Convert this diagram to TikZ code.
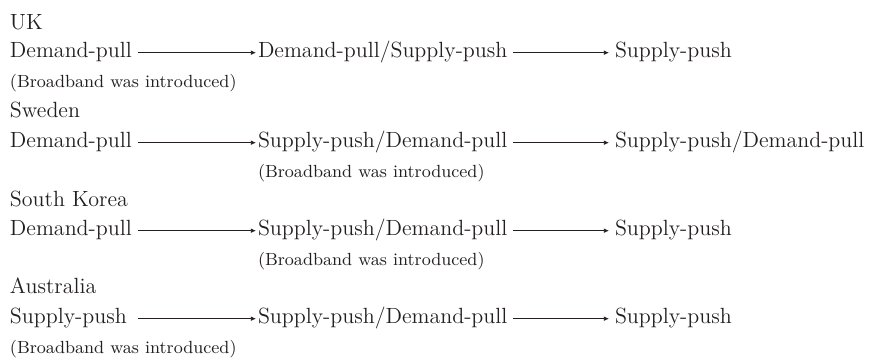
\documentclass[tikz,border=0pt]{standalone}
\usepackage{fontspec}
\usetikzlibrary{arrows.meta}
\definecolor{ink}{HTML}{231F20}
\begin{document}
\begin{tikzpicture}[x=0.5pt,y=-0.5pt,
  every node/.style={inner sep=0pt, outer sep=0pt, anchor=base west, text=ink,
    font=\fontsize{11}{13}\selectfont},
  src/.style={text width=64pt, align=left},
  note/.style={font=\fontsize{8.8}{10}\selectfont},
  link/.style={draw=ink, line width=0.45pt, -{Latex[length=2.6pt,width=2.4pt]}},
  linkA/.style={link, shorten >=1pt},
  linkB/.style={link, shorten <=2.7pt, shorten >=3pt},
  ]
\useasboundingbox (0,0) rectangle (869,360);

% UK
\node (uk) at (10,29) {UK};
\node[src] (uk1) at (10,57) {Demand-pull};
\node (uk2) at (258,57) {Demand-pull/Supply-push};
\node (uk3) at (615,57) {Supply-push};
\node[note] (ukn) at (10,87) {(Broadband was introduced)};
\draw[linkA] (uk1.mid east) -- (uk2.mid west);
\draw[linkB] (uk2.mid east) -- (uk3.mid west);

% Sweden
\node (se) at (10,117) {Sweden};
\node[src] (se1) at (10,147) {Demand-pull};
\node (se2) at (258,147) {Supply-push/Demand-pull};
\node (se3) at (615,147) {Supply-push/Demand-pull};
\node[note] (sen) at (258,177) {(Broadband was introduced)};
\draw[linkA] (se1.mid east) -- (se2.mid west);
\draw[linkB] (se2.mid east) -- (se3.mid west);

% South Korea
\node (kr) at (10,206) {South Korea};
\node[src] (kr1) at (10,235) {Demand-pull};
\node (kr2) at (258,235) {Supply-push/Demand-pull};
\node (kr3) at (615,235) {Supply-push};
\node[note] (krn) at (258,265) {(Broadband was introduced)};
\draw[linkA] (kr1.mid east) -- (kr2.mid west);
\draw[linkB] (kr2.mid east) -- (kr3.mid west);

% Australia
\node (au) at (10,293) {Australia};
\node[src] (au1) at (10,323) {Supply-push};
\node (au2) at (258,323) {Supply-push/Demand-pull};
\node (au3) at (615,323) {Supply-push};
\node[note] (aun) at (10,353) {(Broadband was introduced)};
\draw[linkA] (au1.mid east) -- (au2.mid west);
\draw[linkB] (au2.mid east) -- (au3.mid west);
\end{tikzpicture}
\end{document}
